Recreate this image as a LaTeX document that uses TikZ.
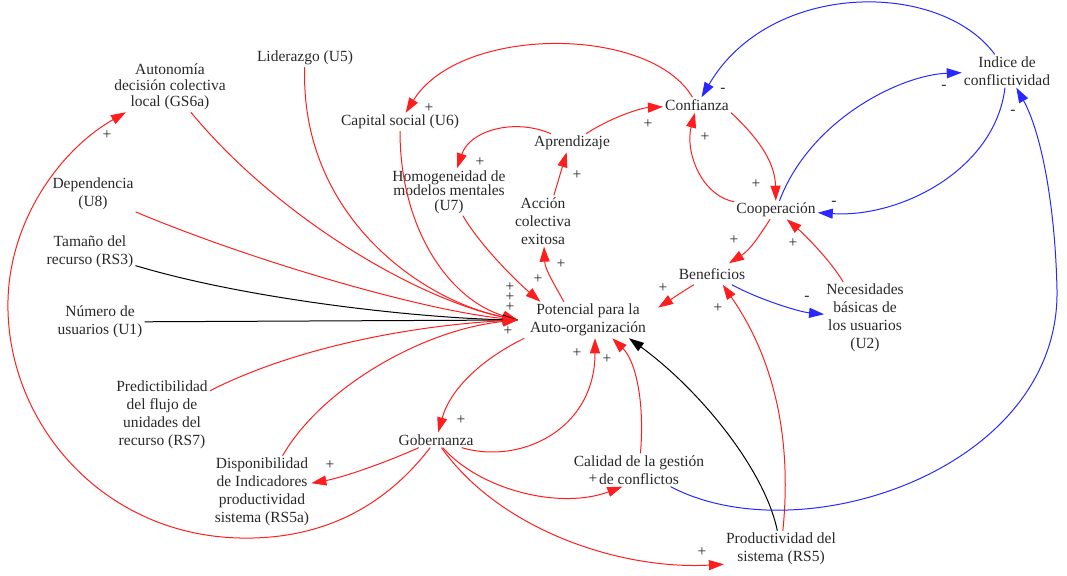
\documentclass[tikz,border=0pt]{standalone}
\usepackage{fontspec}
\setmainfont{Liberation Serif}
\newfontfamily\dfont{Liberation Serif}
\usetikzlibrary{arrows.meta}
\definecolor{cred}{RGB}{255,30,30}
\definecolor{cblue}{RGB}{40,40,255}
\definecolor{ctext}{RGB}{40,40,40}
\begin{document}
\begin{tikzpicture}[x=1pt,y=-1pt,
  var/.style={align=center, text=ctext, inner sep=2pt, font=\dfont\fontsize{15.5}{18}\selectfont},
  pol/.style={text=ctext, inner sep=0pt, font=\dfont\fontsize{15.5}{18}\selectfont},
  lk/.style={line width=1pt, -{Triangle[length=15pt,width=10pt]}},
  lpos/.style={lk, cred},
  lneg/.style={lk, cblue},
  lneu/.style={lk, black}]
\useasboundingbox (0,0) rectangle (1067,575);
% variables
\node[var, font=\dfont\fontsize{15.5}{16}\selectfont] (aut) at (170,87) {Autonomía\\decisión colectiva\\local (GS6a)};
\node[var] (lid) at (305,58) {Liderazgo (U5)};
\node[var] (cap) at (400,122) {Capital social (U6)};
\node[var] (conf) at (697,105) {Confianza};
\node[var] (ind) at (1007,71) {Indice de\\conflictividad};
\node[var] (apr) at (572,143) {Aprendizaje};
\node[var, font=\dfont\fontsize{15.5}{14.5}\selectfont] (hom) at (449,192) {Homogeneidad de\\modelos mentales\\(U7)};
\node[var] (acc) at (543,221) {Acción\\colectiva\\exitosa};
\node[var] (coo) at (776,210) {Cooperación};
\node[var] (dep) at (93,194) {Dependencia\\(U8)};
\node[var] (tam) at (90,252) {Tamaño del\\recurso (RS3)};
\node[var, inner sep=5pt] (ben) at (712,274) {Beneficios};
\node[var] (num) at (100,322) {Número de\\usuarios (U1)};
\node[var, inner xsep=12pt] (pot) at (588,320) {Potencial para la\\Auto-organización};
\node[var] (nec) at (865,318) {Necesidades\\básicas de\\los usuarios\\(U2)};
\node[var] (pre) at (162,415) {Predictibilidad\\del flujo de\\unidades del\\recurso (RS7)};
\node[var] (gob) at (436,440) {Gobernanza};
\node[var] (dis) at (262,492) {Disponibilidad\\de Indicadores\\productividad\\sistema (RS5a)};
\node[var] (cal) at (639,470) {Calidad de la gestión\\de conflictos};
\node[var] (prod) at (781,549) {Productividad del\\sistema (RS5)};
% links
\draw[lpos] (conf) .. controls (650,25) and (460,25) .. (cap);
\draw[lpos] (apr) .. controls (610,118) and (640,108) .. (conf);
\draw[lpos] (apr) .. controls (515,118) and (470,130) .. (hom);
\draw[lpos] (acc.67) -- (apr.-120);
\draw[lpos] (pot.143) .. controls (555,285) and (545,270) .. (acc);
\draw[lpos] (hom) .. controls (480,245) and (515,280) .. (pot.159);
\draw[lpos] (cap) .. controls (400,230) and (450,300) .. (pot.west);
\draw[lpos] (lid) .. controls (300,215) and (420,300) .. (pot.west);
\draw[lpos] (aut) .. controls (280,220) and (420,300) .. (pot.west);
\draw[lpos] (dep) .. controls (250,260) and (420,310) .. (pot.west);
\draw[lneu] (tam) .. controls (250,300) and (420,318) .. (pot.west);
\draw[lneu] (num) -- (pot.west);
\draw[lpos] (pre) .. controls (300,345) and (420,325) .. (pot.west);
\draw[lpos] (dis) .. controls (320,390) and (420,330) .. (pot.west);
\draw[lpos] (ben) .. controls (685,290) and (670,300) .. (pot.10);
\draw[lpos] (coo) .. controls (760,235) and (750,250) .. (ben);
\draw[lpos] (coo) .. controls (700,195) and (685,150) .. (conf);
\draw[lpos] (conf.south east) .. controls (755,135) and (775,160) .. (coo);
\draw[lpos] (nec) .. controls (830,260) and (805,235) .. (coo);
\draw[lneg] (ben) .. controls (760,300) and (800,312) .. (nec);
\draw[lpos] (prod) .. controls (792,440) and (775,360) .. (ben.-45);
\draw[lneu] (prod) .. controls (765,470) and (700,390) .. (pot.-24);
\draw[lpos] (cal) .. controls (645,400) and (635,360) .. (pot.-37);
\draw[lpos] (gob) .. controls (520,465) and (595,430) .. (pot.-69);
\draw[lpos] (pot.196) .. controls (480,360) and (450,390) .. (gob);
\draw[lpos] (gob) .. controls (380,465) and (340,478) .. (dis);
\draw[lpos] (gob) .. controls (390,500) and (330,540) .. (240,538)
   .. controls (100,535) and (5,420) .. (8,300)
   .. controls (10,220) and (60,150) .. (aut);
\draw[lpos] (gob) .. controls (480,490) and (560,510) .. (cal.-135);
\draw[lpos] (gob) .. controls (500,530) and (620,570) .. (prod.195);
\draw[lneg] (cal) .. controls (800,555) and (1060,470) .. (1057,290)
   .. controls (1055,200) and (1040,130) .. (ind);
\draw[lneg] (ind) .. controls (940,-20) and (770,-20) .. (conf);
\draw[lneg] (coo) .. controls (810,120) and (900,75) .. (ind);
\draw[lneg] (ind) .. controls (995,170) and (900,218) .. (coo);
% polarities
\node[pol] (s1) at (429,108) {+};
\node[pol] (s2) at (648,124) {+};
\node[pol] (s3) at (480,162) {+};
\node[pol] (s4) at (577,175) {+};
\node[pol] (s5) at (561,264) {+};
\node[pol] (s6) at (538,279) {+};
\node[pol, align=center, font=\dfont\fontsize{15.5}{5}\selectfont] (s7) at (510,297) {+\\+\\+};
\node[pol] (s10) at (508,331) {+};
\node[pol] (s11) at (663,288) {+};
\node[pol] (s12) at (734,240) {+};
\node[pol] (s13) at (705,137) {+};
\node[pol] (s14) at (756,184) {+};
\node[pol] (s15) at (793,243) {+};
\node[pol] (s16) at (807,298) {-};
\node[pol] (s17) at (718,308) {+};
\node[pol] (s18) at (607,359) {+};
\node[pol] (s19) at (577,353) {+};
\node[pol] (s20) at (461,420) {+};
\node[pol] (s21) at (330,465) {+};
\node[pol] (s22) at (107,135) {+};
\node[pol] (s23) at (593,479) {+};
\node[pol] (s24) at (702,552) {+};
\node[pol] (s25) at (1013,112) {-};
\node[pol] (s26) at (723,90) {-};
\node[pol] (s27) at (944,87) {-};
\node[pol] (s28) at (834,203) {-};
\end{tikzpicture}
\end{document}
